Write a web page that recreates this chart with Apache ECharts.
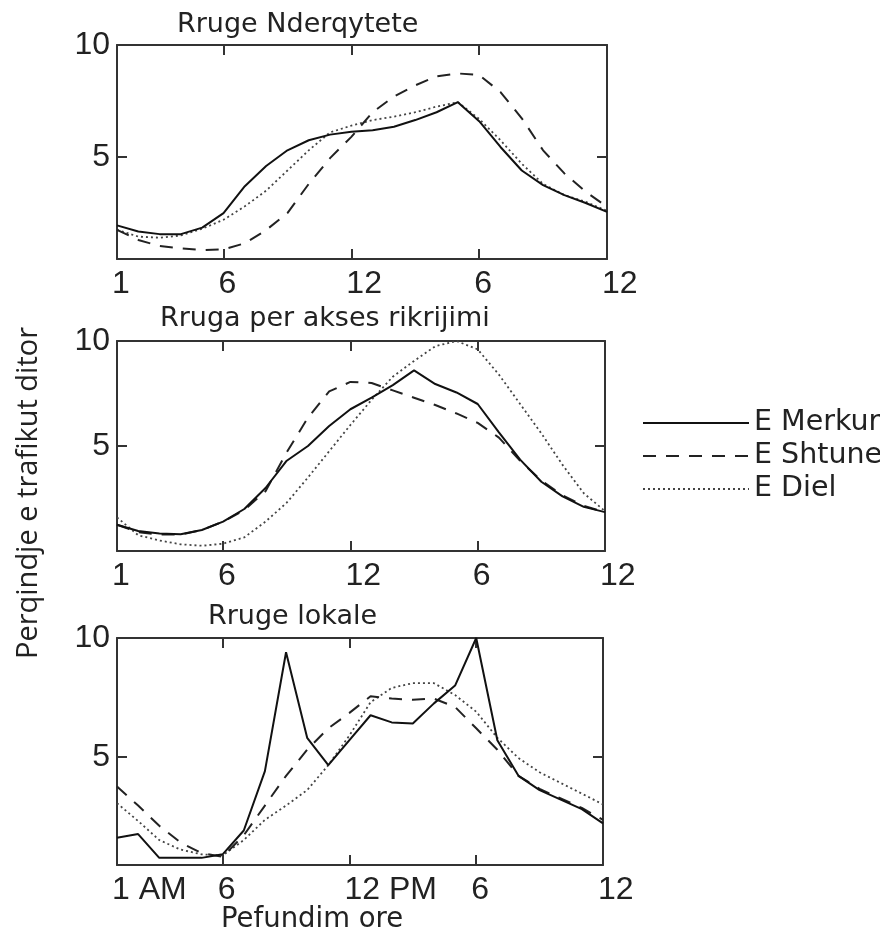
<!DOCTYPE html>
<html><head><meta charset="utf-8">
<script src="https://cdn.jsdelivr.net/npm/echarts@6/dist/echarts.min.js"></script>
<style>html,body{margin:0;padding:0;background:#fff}#c{width:880px;height:933px}</style>
</head><body><div id="c"></div>
<script>
// ---------- DATA ----------
const hours = [1,2,3,4,5,6,7,8,9,10,11,12,13,14,15,16,17,18,19,20,21,22,23,24];
const tickValues = [1,6,12,18,24];
const tickLabelsUpper = ['1','6','12','6','12'];
const tickLabelsLower = ['1 AM','6','12 PM','6','12'];
const yTickValues = [5,10];
const panelTitles = ['Rruge Nderqytete','Rruga per akses rikrijimi','Rruge lokale'];
const seriesNames = ['E Merkur','E Shtune','E Diel'];
const yAxisTitle = 'Perqindje e trafikut ditor';
const xAxisTitle = 'Pefundim ore';

// Rruge Nderqytete
const merkur1 = [1.95,1.68,1.56,1.56,1.85,2.5,3.7,4.6,5.3,5.75,6.0,6.13,6.2,6.35,6.65,7.0,7.45,6.6,5.45,4.4,3.75,3.3,2.95,2.55];
const shtune1 = [1.75,1.3,1.03,0.92,0.85,0.88,1.15,1.74,2.5,3.8,4.95,5.9,7.0,7.7,8.2,8.6,8.73,8.66,7.9,6.73,5.3,4.27,3.45,2.78];
const diel1   = [1.75,1.45,1.4,1.5,1.8,2.2,2.8,3.5,4.4,5.3,6.1,6.4,6.65,6.8,7.0,7.25,7.45,6.7,5.75,4.7,3.8,3.3,3.0,2.6];
// Rruga per akses rikrijimi
const merkur2 = [1.25,0.95,0.83,0.8,1.0,1.4,2.0,3.0,4.3,5.0,5.95,6.75,7.3,7.9,8.6,7.95,7.55,7.0,5.65,4.35,3.3,2.6,2.1,1.85];
const shtune2 = [1.25,0.9,0.78,0.78,1.0,1.4,1.95,2.85,4.7,6.35,7.6,8.05,8.0,7.65,7.3,6.95,6.55,6.1,5.4,4.3,3.35,2.65,2.15,1.85];
const diel2   = [1.6,0.75,0.5,0.32,0.25,0.35,0.65,1.4,2.3,3.5,4.75,6.0,7.2,8.3,9.05,9.75,10.0,9.6,8.4,7.0,5.6,4.1,2.75,1.9];
// Rruge lokale
const merkur3 = [1.6,1.75,0.75,0.75,0.75,0.9,1.9,4.4,9.4,5.8,4.65,5.7,6.75,6.45,6.4,7.25,8.0,10.0,5.7,4.2,3.6,3.2,2.8,2.2];
const shtune3 = [3.75,2.95,2.1,1.4,0.95,0.8,1.7,2.95,4.2,5.3,6.2,6.85,7.55,7.45,7.4,7.45,7.1,6.2,5.3,4.2,3.65,3.25,2.85,2.35];
const diel3   = [3.05,2.3,1.5,1.1,0.9,0.85,1.5,2.35,2.95,3.6,4.65,5.9,7.3,7.9,8.1,8.1,7.6,6.9,5.8,4.95,4.35,3.9,3.45,3.0];

const panelData = [[merkur1,shtune1,diel1],[merkur2,shtune2,diel2],[merkur3,shtune3,diel3]];
const panelLabels = [tickLabelsUpper, tickLabelsUpper, tickLabelsLower];

// ---------- LAYOUT / STYLE ----------
const panels = [
  {left:117, top:45,  width:490, height:214, ymin:0.45, title:{x:177, y:24}},
  {left:117, top:341, width:488, height:210, ymin:0,    title:{x:160, y:318}},
  {left:117, top:638, width:486, height:227, ymin:0.45, title:{x:208, y:616}}
];
const INK = '#222', AX = '#333';
const TICK_FONT = 'Arial, "Liberation Sans", Helvetica, sans-serif', TICK_SIZE = 32;
const lineStyles = [
  {color:'#111', width:2, type:'solid'},
  {color:'#222', width:2, type:[13,10]},
  {color:'#444', width:1.8, type:[2,3]}
];

const ctx = document.createElement('canvas').getContext('2d');
ctx.font = TICK_SIZE + 'px ' + TICK_FONT;
function tw(s){ return ctx.measureText(s).width; }

const grid = [], xAxis = [], yAxis = [], series = [], graphic = [];
panels.forEach((p, pi) => {
  grid.push({left:p.left, top:p.top, width:p.width, height:p.height, containLabel:false});
  const labels = panelLabels[pi];
  const rich = {t:{fontFamily:TICK_FONT, fontSize:TICK_SIZE, color:INK}};
  labels.forEach((s, i) => { rich['p'+i] = {width: Math.max(0, tw(s) - 10), height: 10}; });
  xAxis.push({
    type:'value', gridIndex:pi, min:1, max:24, position:'bottom',
    axisLine:{show:true, onZero:false, lineStyle:{color:AX, width:2}},
    axisTick:{show:true, inside:true, length:10, lineStyle:{color:AX, width:2}, customValues:tickValues},
    axisLabel:{show:true, margin:9, customValues:tickValues, rich:rich, fontFamily:TICK_FONT, fontSize:TICK_SIZE,
      formatter:(v)=>{ const i = tickValues.indexOf(v); return i < 0 ? '' : '{p'+i+'|}{t|'+labels[i]+'}'; }},
    splitLine:{show:false}
  });
  xAxis.push({
    type:'value', gridIndex:pi, min:1, max:24, position:'top',
    axisLine:{show:true, onZero:false, lineStyle:{color:AX, width:2}},
    axisTick:{show:true, inside:true, length:10, lineStyle:{color:AX, width:2}, customValues:tickValues.slice(1,4)},
    axisLabel:{show:false}, splitLine:{show:false}
  });
  yAxis.push({
    type:'value', gridIndex:pi, min:p.ymin, max:10, position:'left',
    axisLine:{show:true, onZero:false, lineStyle:{color:AX, width:2}},
    axisTick:{show:true, inside:true, length:10, lineStyle:{color:AX, width:2}, customValues:[yTickValues[0]]},
    axisLabel:{show:true, margin:7, customValues:yTickValues, fontFamily:TICK_FONT, fontSize:TICK_SIZE, color:INK},
    splitLine:{show:false}
  });
  yAxis.push({
    type:'value', gridIndex:pi, min:p.ymin, max:10, position:'right',
    axisLine:{show:true, onZero:false, lineStyle:{color:AX, width:2}},
    axisTick:{show:true, inside:true, length:10, lineStyle:{color:AX, width:2}, customValues:[yTickValues[0]]},
    axisLabel:{show:false}, splitLine:{show:false}
  });
  panelData[pi].forEach((arr, si) => {
    series.push({
      type:'line', name:seriesNames[si], xAxisIndex:pi*2, yAxisIndex:pi*2,
      data: hours.map((h, k) => [h, arr[k]]),
      symbol:'none', showSymbol:false, smooth:false, clip:true,
      lineStyle:lineStyles[si], itemStyle:{color:lineStyles[si].color},
      z: 5 - si, silent:true
    });
  });
  graphic.push({type:'text', left:p.title.x, top:p.title.y - 13,
    style:{text:panelTitles[pi], font:'27px "DejaVu Sans"', fill:INK}});
});

graphic.push({type:'text', x:29, y:493, rotation:Math.PI/2,
  style:{text:yAxisTitle, font:'29px "Open Sans"', fill:INK, textAlign:'center', textVerticalAlign:'middle', align:'center', verticalAlign:'middle'}});
graphic.push({type:'text', left:221, top:906,
  style:{text:xAxisTitle, font:'27.5px "DejaVu Sans"', fill:INK}});

const chart = echarts.init(document.getElementById('c'), null, {renderer:'canvas'});
chart.setOption({
  animation:false,
  backgroundColor:'#fff',
  grid, xAxis, yAxis, series, graphic,
  legend:{
    data:seriesNames, orient:'vertical', left:637, top:403,
    itemWidth:106, itemHeight:14, itemGap:3, selectedMode:false,
    itemStyle:{color:'rgba(0,0,0,0)', borderColor:'rgba(0,0,0,0)', borderWidth:0, opacity:0},
    textStyle:{fontFamily:'DejaVu Sans', fontSize:28.5, color:INK, lineHeight:30}
  }
});
</script></body></html>
